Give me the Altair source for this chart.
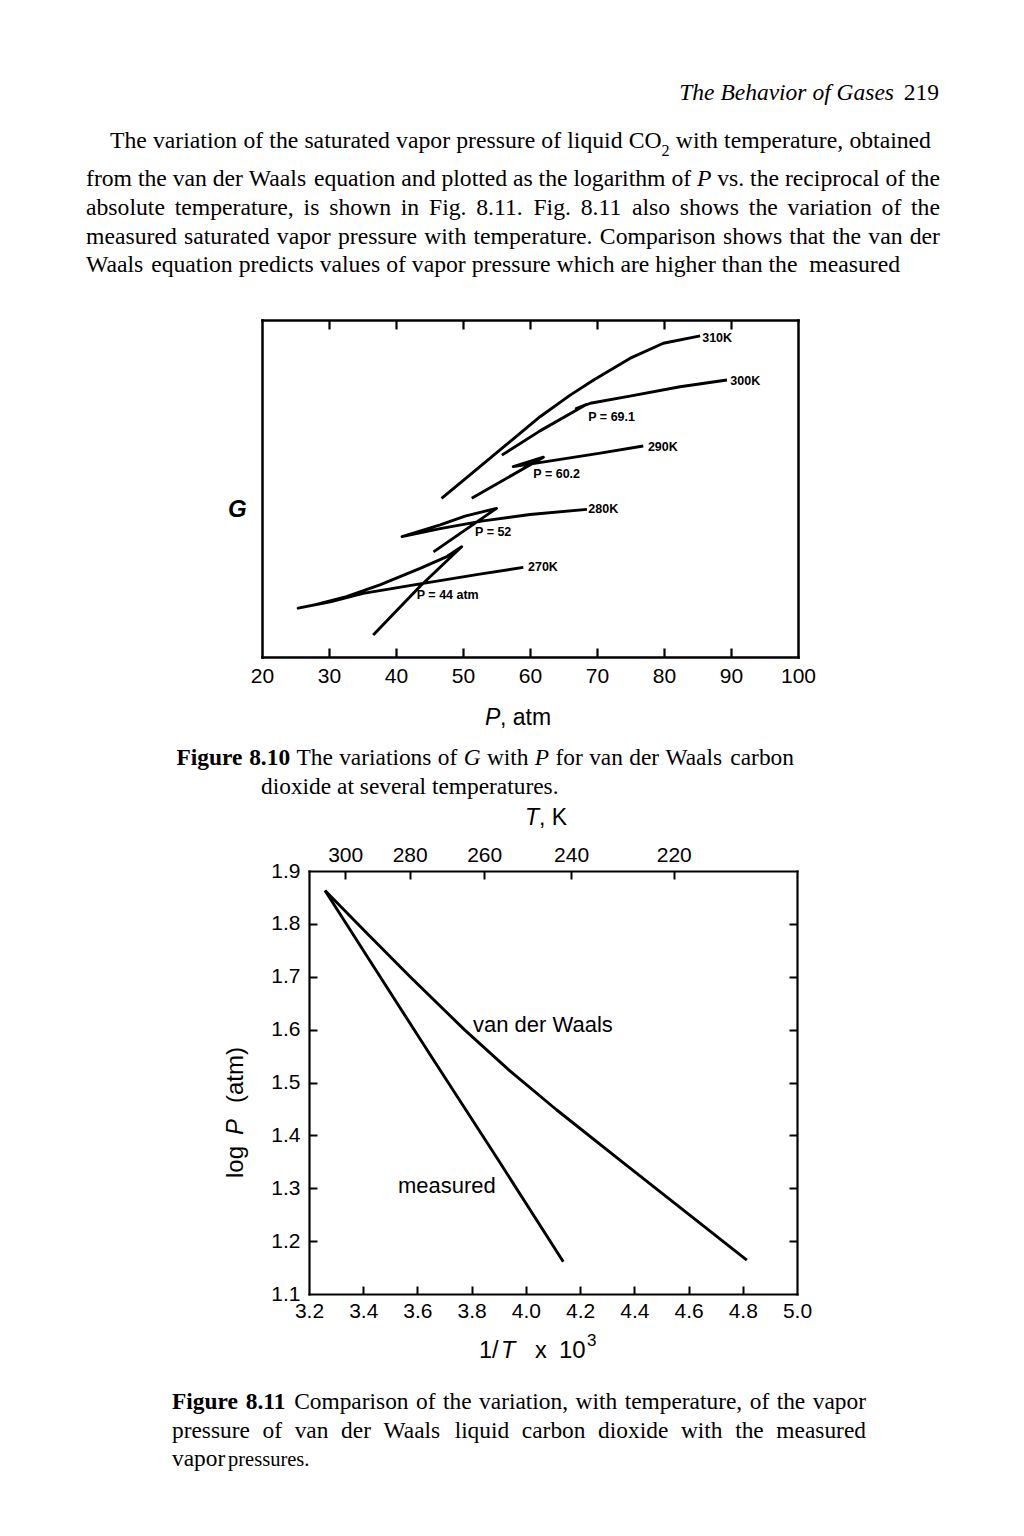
import altair as alt
import pandas as pd

W, H, M = 1008, 1520, 8
SERIF = "Liberation Serif"
SANS = "Liberation Sans"
BODY = 23.7
CAP = 23.4

# ---------------- Figure 8.10 : G vs P for van der Waals CO2 ----------------
iso_names = ["310K", "300K", "290K", "280K", "270K"]
p310 = [46.8, 51.0, 55.8, 61.5, 66.0, 69.5, 74.9, 79.9, 85.4]
g310 = [4.71, 5.40, 6.19, 7.13, 7.77, 8.22, 8.86, 9.31, 9.53]
p300 = [55.8, 61.5, 68.4, 66.9, 69.0, 74.9, 82.4, 89.4]
g300 = [5.99, 6.71, 7.49, 7.37, 7.53, 7.74, 8.02, 8.22]
p290 = [51.3, 62.0, 57.5, 60.2, 65.0, 70.5, 76.9]
g290 = [4.71, 5.93, 5.65, 5.73, 5.88, 6.05, 6.26]
p280 = [45.6, 55.0, 50.3, 46.6, 40.9, 46.6, 53.0, 60.0, 68.5]
g280 = [3.12, 4.41, 4.18, 3.92, 3.57, 3.81, 4.04, 4.23, 4.38]
p270 = [36.6, 43.6, 49.8, 47.6, 43.6, 37.6, 32.6, 27.7, 25.4, 30.2, 35.1, 43.6, 52.5, 59.0]
g270 = [0.65, 2.10, 3.27, 2.98, 2.63, 2.14, 1.79, 1.54, 1.45, 1.64, 1.89, 2.17, 2.46, 2.66]

iso_label_P = [85.7, 89.9, 77.6, 68.7, 59.7]
iso_label_G = [9.47, 8.19, 6.23, 4.39, 2.67]
cross_labels = ["P = 69.1", "P = 60.2", "P = 52", "P = 44 atm"]
cross_P = [68.7, 60.5, 51.8, 43.1]
cross_G = [7.12, 5.43, 3.72, 1.84]
p_ticks = [20, 30, 40, 50, 60, 70, 80, 90, 100]
p_inner_ticks = [30, 40, 50, 60, 70, 80, 90]

# ---------------- Figure 8.11 : log P vs 1/T ----------------
invT_meas = [3.259, 3.45, 3.65, 3.90, 4.138]
logP_meas = [1.863, 1.710, 1.550, 1.352, 1.161]
invT_vdw = [3.259, 3.42, 3.573, 3.775, 3.941, 4.114, 4.347, 4.815]
logP_vdw = [1.863, 1.779, 1.700, 1.599, 1.522, 1.448, 1.353, 1.164]
curve_labels = ["van der Waals", "measured"]
curve_label_x = [3.805, 3.528]
curve_label_y = [1.609, 1.304]
invT_ticks = [3.2, 3.4, 3.6, 3.8, 4.0, 4.2, 4.4, 4.6, 4.8, 5.0]
invT_inner = [3.4, 3.6, 3.8, 4.0, 4.2, 4.4, 4.6, 4.8]
logP_ticks = [1.1, 1.2, 1.3, 1.4, 1.5, 1.6, 1.7, 1.8, 1.9]
logP_inner = [1.2, 1.3, 1.4, 1.5, 1.6, 1.7, 1.8]
T_ticks = [300, 280, 260, 240, 220]

# ---------------- page text ----------------
header_title = "The Behavior of Gases"
header_page = "219"
para_1a = "The variation of the saturated vapor pressure of liquid"
para_1b = "with temperature, obtained"
para_2a = "from the van der Waals equation and plotted as the logarithm of"
para_2b = "vs. the reciprocal of the"
para_3 = "absolute temperature, is shown in Fig. 8.11. Fig. 8.11 also shows the variation of the"
para_4 = "measured saturated vapor pressure with temperature. Comparison shows that the van der"
para_5a = "Waals equation predicts values of vapor pressure which are higher than the"
para_5b = "measured"
cap1_a = "The variations of"
cap1_b = "for van der Waals carbon"
cap1_2 = "dioxide at several temperatures."
cap2_1 = "Comparison of the variation, with temperature, of the vapor"
cap2_2 = "pressure of van der Waals liquid carbon dioxide with the measured"

# ---------------- tables ----------------
iso_rows = []
for name, ps, gs in zip(iso_names, [p310, p300, p290, p280, p270],
                        [g310, g300, g290, g280, g270]):
    for i, (p, g) in enumerate(zip(ps, gs)):
        iso_rows.append({"T": name, "P": p, "G": g, "i": i})
df_iso = pd.DataFrame(iso_rows)
df_iso_lab = pd.DataFrame({"label": iso_names, "P": iso_label_P, "G": iso_label_G})
df_cross = pd.DataFrame({"label": cross_labels, "P": cross_P, "G": cross_G})

vp_rows = []
for name, xs, ys in [("measured", invT_meas, logP_meas), ("vdw", invT_vdw, logP_vdw)]:
    for i, (a, b) in enumerate(zip(xs, ys)):
        vp_rows.append({"s": name, "x": a, "y": b, "i": i})
df_vp = pd.DataFrame(vp_rows)
df_vp_lab = pd.DataFrame({"label": curve_labels, "x": curve_label_x, "y": curve_label_y})

# ---------------- frames (page pixels) ----------------
F1 = dict(l=262, r=798, t=320, b=657)
F2 = dict(l=309, r=797, t=871, b=1294)


def scales(fr, xdom, ydom):
    xs = alt.Scale(domain=xdom, range=[fr["l"] - M, fr["r"] - M], nice=False, zero=False)
    ys = alt.Scale(domain=ydom, range=[fr["b"] - M, fr["t"] - M], nice=False, zero=False)
    return xs, ys


def base_axis(**kw):
    d = dict(grid=False, title=None, domainColor="black", tickColor="black",
             labelColor="black", labelFont=SANS, labelFontSize=21,
             labelOverlap=False, labelFlush=False, domainCap="square")
    d.update(kw)
    return alt.Axis(**d)


def dom_axis(orient, fr, width, labels=False, **kw):
    if orient == "bottom":
        off = (fr["b"] - M) - H
    elif orient == "top":
        off = -(fr["t"] - M)
    elif orient == "left":
        off = -(fr["l"] - M)
    else:
        off = (fr["r"] - M) - W
    return base_axis(orient=orient, offset=off, domain=True, domainWidth=width,
                     ticks=False, tickSize=0, labels=labels, **kw)


def tick_axis(orient, fr, values, size, width=2):
    if orient == "bottom":
        off = (fr["b"] - M - size) - H
    elif orient == "top":
        off = -(fr["t"] - M + size)
    elif orient == "left":
        off = -(fr["l"] - M + size)
    else:
        off = (fr["r"] - M - size) - W
    return base_axis(orient=orient, offset=off, domain=False, ticks=True,
                     tickSize=size, tickWidth=width, labels=False, values=values)


xs1, ys1 = scales(F1, [20, 100], [0, 10])
xs2, ys2 = scales(F2, [3.2, 5.0], [1.1, 1.9])

# Figure 8.10 layers
f1_lines = alt.Chart(df_iso).mark_line(color="black", strokeWidth=2.9, strokeJoin="round").encode(
    x=alt.X("P:Q", scale=xs1, axis=dom_axis("bottom", F1, 2.5, labels=True, values=p_ticks,
                                            labelPadding=19, labelBaseline="middle")),
    y=alt.Y("G:Q", scale=ys1, axis=dom_axis("left", F1, 2.5)),
    detail="T:N", order="i:Q")
f1_labels = alt.Chart(df_iso_lab).mark_text(
    align="left", baseline="middle", font=SANS, fontSize=12.5, fontWeight="bold", color="black"
).encode(
    x=alt.X("P:Q", scale=xs1, axis=dom_axis("top", F1, 2.5)),
    y=alt.Y("G:Q", scale=ys1, axis=dom_axis("right", F1, 2.5)),
    text="label:N")
f1_cross = alt.Chart(df_cross).mark_text(
    align="left", baseline="middle", font=SANS, fontSize=12.5, fontWeight="bold", color="black"
).encode(
    x=alt.X("P:Q", scale=xs1, axis=tick_axis("bottom", F1, p_inner_ticks, 9, 2.2)),
    y=alt.Y("G:Q", scale=ys1, axis=None),
    text="label:N")
f1_ghost = alt.Chart(df_iso).mark_line(opacity=0).encode(
    x=alt.X("P:Q", scale=xs1, axis=tick_axis("top", F1, p_inner_ticks, 9, 2.2)),
    y=alt.Y("G:Q", scale=ys1, axis=None),
    detail="T:N", order="i:Q")

# Figure 8.11 layers
f2_lines = alt.Chart(df_vp).mark_line(color="black", strokeWidth=2.9, strokeJoin="round").encode(
    x=alt.X("x:Q", scale=xs2, axis=dom_axis("bottom", F2, 2.2, labels=True, values=invT_ticks,
                                            format=".1f", labelPadding=17, labelBaseline="middle")),
    y=alt.Y("y:Q", scale=ys2, axis=dom_axis("left", F2, 2.2, labels=True, values=logP_ticks,
                                            format=".1f", labelPadding=9)),
    detail="s:N", order="i:Q")
f2_labels = alt.Chart(df_vp_lab).mark_text(
    align="left", baseline="middle", font=SANS, fontSize=22, color="black"
).encode(
    x=alt.X("x:Q", scale=xs2, axis=dom_axis("top", F2, 2.2, labels=True,
                                            values=[1000 / t for t in T_ticks],
                                            labelExpr="format(1000 / datum.value, '.0f')",
                                            labelPadding=16, labelBaseline="middle")),
    y=alt.Y("y:Q", scale=ys2, axis=dom_axis("right", F2, 2.2)),
    text="label:N")
f2_ghost_a = alt.Chart(df_vp).mark_line(opacity=0).encode(
    x=alt.X("x:Q", scale=xs2, axis=tick_axis("bottom", F2, invT_inner, 8)),
    y=alt.Y("y:Q", scale=ys2, axis=tick_axis("left", F2, logP_inner, 8)),
    detail="s:N", order="i:Q")
f2_ghost_b = alt.Chart(df_vp).mark_line(opacity=0).encode(
    x=alt.X("x:Q", scale=xs2, axis=tick_axis("top", F2, [1000 / t for t in T_ticks], 8)),
    y=alt.Y("y:Q", scale=ys2, axis=tick_axis("right", F2, logP_inner, 8)),
    detail="s:N", order="i:Q")

# ---------------- text helpers (Times metrics for word placement) ----------------
one = alt.Data(values=[{"k": 0}])

TR = {" ": 250, "!": 333, "(": 333, ")": 333, ",": 250, "-": 333, ".": 250, "/": 278,
      ":": 278, ";": 278, "=": 564, "?": 444,
      "A": 722, "B": 667, "C": 667, "D": 722, "E": 611, "F": 556, "G": 722, "H": 722,
      "I": 333, "J": 389, "K": 722, "L": 611, "M": 889, "N": 722, "O": 722, "P": 556,
      "Q": 722, "R": 667, "S": 556, "T": 611, "U": 722, "V": 722, "W": 944, "X": 722,
      "Y": 722, "Z": 611,
      "a": 444, "b": 500, "c": 444, "d": 500, "e": 444, "f": 333, "g": 500, "h": 500,
      "i": 278, "j": 278, "k": 500, "l": 278, "m": 778, "n": 500, "o": 500, "p": 500,
      "q": 500, "r": 333, "s": 389, "t": 278, "u": 500, "v": 500, "w": 722, "x": 500,
      "y": 500, "z": 444}
TI = {"P": 611, "G": 722}
TB = {"F": 611, "i": 278, "g": 500, "u": 556, "r": 444, "e": 444, ".": 250}
STY = {"n": ("normal", "normal"), "i": ("italic", "normal"), "b": ("normal", "bold")}


def tw(s, style, size):
    tab = {"n": TR, "i": TI, "b": TB}[style]
    return sum(tab.get(c, TR.get(c, 500)) for c in s) * size / 1000.0


def txt(s, x, y, size=BODY, font=SERIF, style="normal", weight="normal",
        align="left", angle=0):
    return alt.Chart(one).mark_text(
        text=s, font=font, fontSize=size, fontStyle=style, fontWeight=weight,
        align=align, baseline="middle", angle=angle, color="black"
    ).encode(x=alt.value(x - M), y=alt.value(y - M))


def toks(s, style="n"):
    return [(w, style, None) for w in s.split()]


def line(tokens, x0, y, size, x1=None, extra=None):
    """Place words one by one; justified between x0 and x1 if x1 is given."""
    extra = extra or {}
    widths = []
    for t, st, sub in tokens:
        w = tw(t, st, size)
        if sub:
            w += tw(sub, "n", size * 0.68)
        widths.append(w)
    n = len(tokens)
    if x1 is not None and n > 1:
        gap = (x1 - x0 - sum(widths)) / (n - 1)
    else:
        gap = 250 * size / 1000.0
    out = []
    x = x0
    for k, ((t, st, sub), w) in enumerate(zip(tokens, widths)):
        fs, fw = STY[st]
        out.append(txt(t, x, y, size=size, style=fs, weight=fw))
        if sub:
            out.append(txt(sub, x + tw(t, st, size), y + 10, size=size * 0.68))
        x += w + gap + extra.get(k, 0)
    return out


texts = []
texts.append(txt(header_title, 894, 93, size=23.5, style="italic", align="right"))
texts.append(txt(header_page, 939, 93, size=23.5, align="right"))
texts += line(toks(para_1a) + [("CO", "n", "2")] + toks(para_1b), 110, 141, BODY, 931)
texts += line(toks(para_2a) + [("P", "i", None)] + toks(para_2b), 86, 179, BODY, 940)
texts += line(toks(para_3), 86, 208, BODY, 940)
texts += line(toks(para_4), 86, 237, BODY, 940)
texts += line(toks(para_5a) + toks(para_5b), 86, 265, BODY,
              extra={len(toks(para_5a)) - 1: 250 * BODY / 1000.0})

# figure 8.10 titles
texts += [
    txt("G", 228, 510, size=24, font=SANS, style="italic", weight="bold"),
    txt("P", 485, 718, size=23, font=SANS, style="italic"),
    txt(", atm", 500, 718, size=23, font=SANS),
]
# caption 8.10
texts += line([("Figure", "b", None), ("8.10", "b", None)] + toks(cap1_a)
              + [("G", "i", None)] + toks("with") + [("P", "i", None)] + toks(cap1_b),
              176.5, 758, CAP, 794)
texts += line(toks(cap1_2), 261, 787, CAP)

# figure 8.11 titles
texts += [
    txt("T", 525, 818, size=23, font=SANS, style="italic"),
    txt(", K", 539, 818, size=23, font=SANS),
    txt("log", 236, 1178, size=24, font=SANS, angle=270),
    txt("P", 236, 1135, size=24, font=SANS, style="italic", angle=270),
    txt("(atm)", 236, 1103, size=24, font=SANS, angle=270),
    txt("1/", 479, 1351, size=23.5, font=SANS),
    txt("T", 501, 1351, size=23.5, font=SANS, style="italic"),
    txt("x", 535, 1351, size=23.5, font=SANS),
    txt("10", 559, 1351, size=24, font=SANS),
    txt("3", 587, 1341, size=17, font=SANS),
]
# caption 8.11
texts += line([("Figure", "b", None), ("8.11", "b", None)] + toks(cap2_1), 172, 1402, CAP, 866)
texts += line(toks(cap2_2), 172, 1431, CAP, 866)
texts += [
    txt("vapor", 172, 1459, size=CAP),
    txt("pressures.", 228, 1460, size=20.5),
]

chart = alt.layer(
    f1_lines, f1_labels, f1_cross, f1_ghost,
    f2_lines, f2_labels, f2_ghost_a, f2_ghost_b,
    *texts
).resolve_scale(x="independent", y="independent").resolve_axis(
    x="independent", y="independent"
).properties(
    width=W, height=H, padding=0, autosize=alt.AutoSizeParams(type="none"),
    background="white"
).configure_view(stroke=None)

chart.save("out.html", embed_options={"renderer": "svg", "actions": False})
